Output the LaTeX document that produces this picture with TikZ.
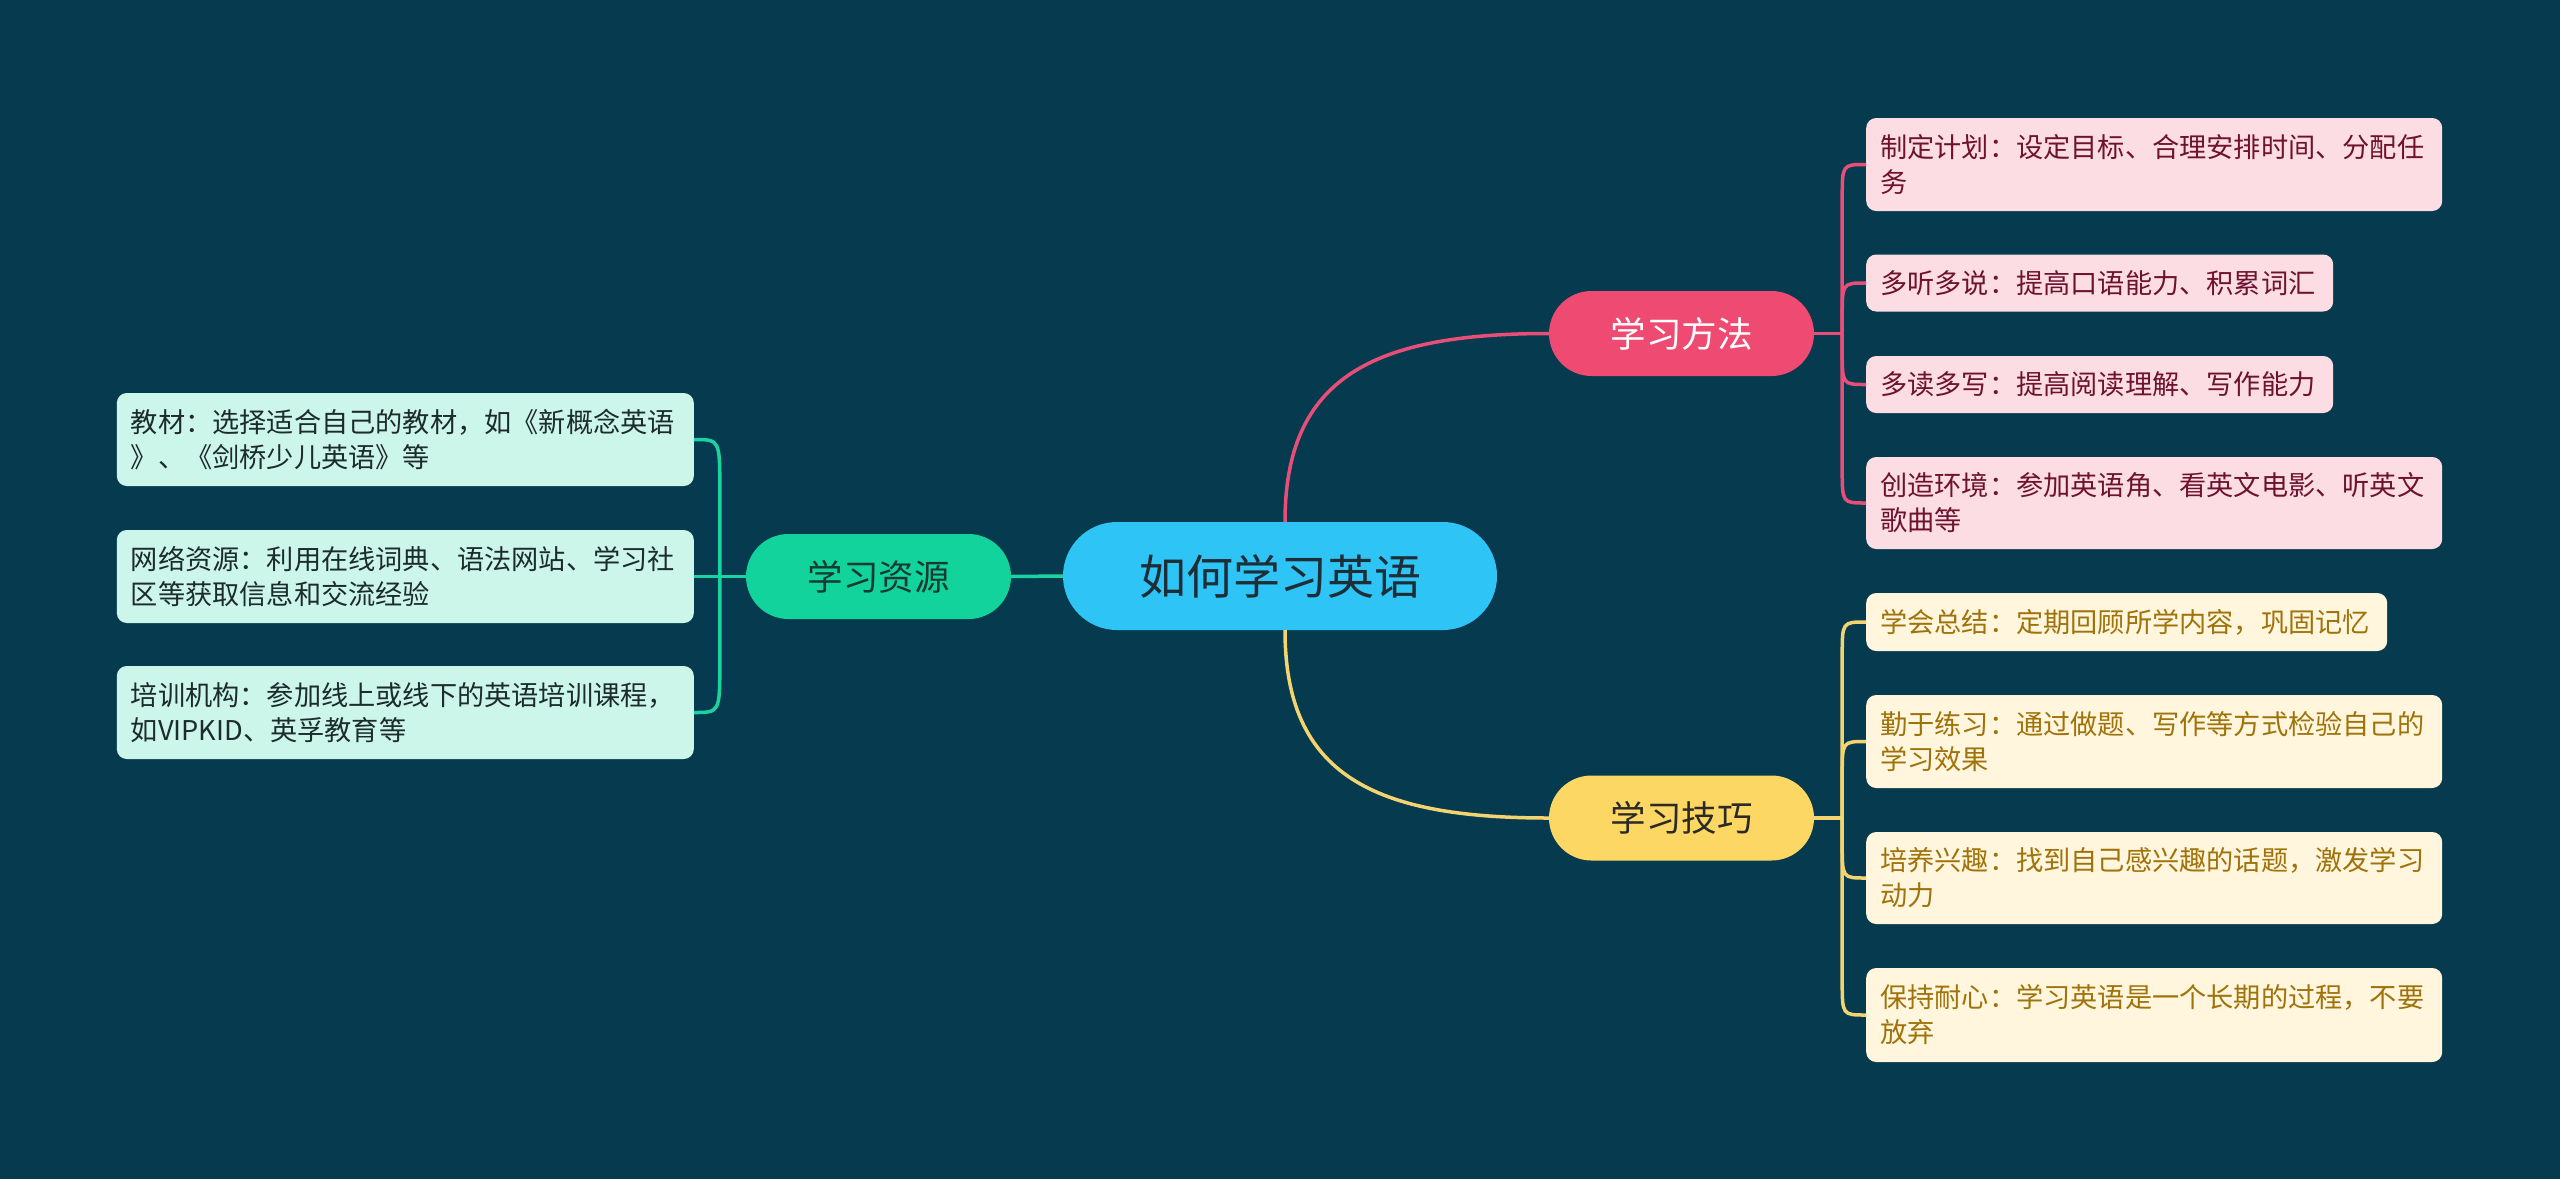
\documentclass[tikz,border=0pt]{standalone}
\usepackage{fontspec}
\setmainfont{Noto Sans CJK SC}
\usetikzlibrary{shapes.misc,calc}
\definecolor{bg}{HTML}{063A4E}
\definecolor{cRoot}{HTML}{2EC4F5}
\definecolor{cRootText}{HTML}{1E2D36}
\definecolor{cMethod}{HTML}{EE4A72}
\definecolor{cSkill}{HTML}{FDD764}
\definecolor{cSkillText}{HTML}{2B2A26}
\definecolor{cRes}{HTML}{12D39B}
\definecolor{cResText}{HTML}{173A33}
\definecolor{mFill}{HTML}{FDDDE4}
\definecolor{mText}{HTML}{6E1230}
\definecolor{mLine}{HTML}{E94E79}
\definecolor{sFill}{HTML}{FFF6DD}
\definecolor{sText}{HTML}{A0720A}
\definecolor{sLine}{HTML}{F3D46E}
\definecolor{rFill}{HTML}{CDF6EB}
\definecolor{rText}{HTML}{1C2B2B}
\definecolor{rLine}{HTML}{1BD3A0}
\begin{document}
\begin{tikzpicture}[x=1pt,y=-1pt,
  rootbox/.style={rounded rectangle, fill=cRoot, text=cRootText, minimum width=434pt, minimum height=108pt, inner sep=0pt, font=\fontsize{47}{56}\selectfont},
  branchbox/.style={rounded rectangle, minimum width=265pt, minimum height=85pt, inner sep=0pt, font=\fontsize{35.5}{42}\selectfont},
  leafbox/.style={rectangle, rounded corners=10pt, align=left, inner xsep=14pt, inner ysep=0pt, font=\fontsize{27.2}{35}\selectfont},
  mleaf/.style={leafbox, fill=mFill, text=mText, anchor=west},
  sleaf/.style={leafbox, fill=sFill, text=sText, anchor=west},
  rleaf/.style={leafbox, fill=rFill, text=rText, anchor=east},
  mline/.style={draw=mLine, line width=3.5pt},
  sline/.style={draw=sLine, line width=3.5pt},
  rline/.style={draw=rLine, line width=3.5pt}]
\fill[bg] (0,0) rectangle (2560,1179);
\useasboundingbox (0,0) rectangle (2560,1179);

% main nodes
\node[rootbox] (root) at (1280,576) {如何学习英语};
\node[branchbox, fill=cMethod, text=white] (method) at (1681.5,333.5) {学习方法};
\node[branchbox, fill=cSkill, text=cSkillText] (skill) at (1681.5,818) {学习技巧};
\node[branchbox, fill=cRes, text=cResText] (res) at (878.5,576.5) {学习资源};

% method leaves
\node[mleaf, text width=548pt, minimum height=93pt] (m1) at (1866,164.5) {制定计划：设定目标、合理安排时间、分配任\\务};
\node[mleaf, text width=439pt, minimum height=57pt] (m2) at (1866,283) {多听多说：提高口语能力、积累词汇};
\node[mleaf, text width=439pt, minimum height=57pt] (m3) at (1866,384.5) {多读多写：提高阅读理解、写作能力};
\node[mleaf, text width=548pt, minimum height=92pt] (m4) at (1866,503) {创造环境：参加英语角、看英文电影、听英文\\歌曲等};

% skill leaves
\node[sleaf, text width=493pt, minimum height=58pt] (s1) at (1866,622) {学会总结：定期回顾所学内容，巩固记忆};
\node[sleaf, text width=548pt, minimum height=93pt] (s2) at (1866,741.5) {勤于练习：通过做题、写作等方式检验自己的\\学习效果};
\node[sleaf, text width=548pt, minimum height=92pt] (s3) at (1866,878) {培养兴趣：找到自己感兴趣的话题，激发学习\\动力};
\node[sleaf, text width=548pt, minimum height=94pt] (s4) at (1866,1015) {保持耐心：学习英语是一个长期的过程，不要\\放弃};

% resource leaves
\node[rleaf, text width=549pt, minimum height=93pt] (r1) at (694,439.5) {教材：选择适合自己的教材，如《新概念英语\\》、《剑桥少儿英语》等};
\node[rleaf, text width=549pt, minimum height=93pt] (r2) at (694,576.5) {网络资源：利用在线词典、语法网站、学习社\\区等获取信息和交流经验};
\node[rleaf, text width=549pt, minimum height=93pt] (r3) at (694,712.5) {培训机构：参加线上或线下的英语培训课程，\\如VIPKID、英孚教育等};

% root connectors
\draw[rline] (root.west) -- (res.east);
\draw[mline] ([xshift=5pt]root.north) .. controls +(0,-145) and +(-175,0) .. (method.west);
\draw[sline] ([xshift=5pt]root.south) .. controls +(0,145) and +(-175,0) .. (skill.west);

% method bracket
\coordinate (mt) at ([xshift=28pt]method.east);
\draw[mline] (method.east) -- (mt);
\draw[mline] (mt) -- ($(mt|-m1.west)+(0,34)$) .. controls (mt|-m1.west) .. (m1.west);
\draw[mline] (mt) -- ($(mt|-m2.west)+(0,34)$) .. controls (mt|-m2.west) .. (m2.west);
\draw[mline] (mt) -- ($(mt|-m3.west)+(0,-34)$) .. controls (mt|-m3.west) .. (m3.west);
\draw[mline] (mt) -- ($(mt|-m4.west)+(0,-34)$) .. controls (mt|-m4.west) .. (m4.west);

% skill bracket
\coordinate (st) at ([xshift=28pt]skill.east);
\draw[sline] (skill.east) -- (st);
\draw[sline] (st) -- ($(st|-s1.west)+(0,34)$) .. controls (st|-s1.west) .. (s1.west);
\draw[sline] (st) -- ($(st|-s2.west)+(0,34)$) .. controls (st|-s2.west) .. (s2.west);
\draw[sline] (st) -- ($(st|-s3.west)+(0,-34)$) .. controls (st|-s3.west) .. (s3.west);
\draw[sline] (st) -- ($(st|-s4.west)+(0,-34)$) .. controls (st|-s4.west) .. (s4.west);

% resource bracket
\coordinate (rt) at ([xshift=-26pt]res.west);
\draw[rline] (res.west) -- (rt);
\draw[rline] (rt) -- ($(rt|-r1.east)+(0,50)$) .. controls (rt|-r1.east) .. (r1.east);
\draw[rline] (rt) -- (r2.east);
\draw[rline] (rt) -- ($(rt|-r3.east)+(0,-50)$) .. controls (rt|-r3.east) .. (r3.east);
\end{tikzpicture}
\end{document}
